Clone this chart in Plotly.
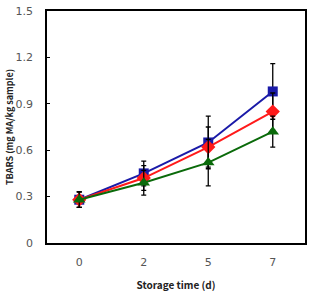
import plotly.graph_objects as go

days = ["0", "2", "5", "7"]
blue_vals = [0.28, 0.45, 0.65, 0.98]
blue_err = [0.05, 0.08, 0.17, 0.18]
red_vals = [0.28, 0.42, 0.62, 0.85]
red_err = [0.05, 0.08, 0.13, 0.12]
green_vals = [0.28, 0.39, 0.52, 0.72]
green_err = [0.05, 0.08, 0.15, 0.10]
y_ticks = [0, 0.3, 0.6, 0.9, 1.2, 1.5]
y_labels = ["0", "0.3", "0.6", "0.9", "1.2", "1.5"]

series = [
    (blue_vals, blue_err, "#1a1aa8", "square", 10),
    (red_vals, red_err, "#ff1a1a", "diamond", 11),
    (green_vals, green_err, "#0a6a0a", "triangle-up", 11),
]

fig = go.Figure()
for vals, err, col, sym, sz in series:
    fig.add_trace(go.Scatter(
        x=days, y=vals, mode="lines+markers",
        line=dict(color=col, width=2),
        marker=dict(symbol=sym, size=sz, color=col),
        error_y=dict(type="data", array=err, visible=True, color="black",
                     thickness=1.3, width=2.5),
        showlegend=False,
    ))

fig.update_layout(
    width=312, height=295,
    margin=dict(l=47, r=5, t=7, b=51),
    paper_bgcolor="white", plot_bgcolor="white",
    font=dict(family="DejaVu Sans", color="#333333"),
)
fig.update_xaxes(
    type="category", range=[-0.5, 3.5],
    showline=True, linecolor="black", linewidth=1.5, mirror=True,
    showgrid=False, ticks="", tickfont=dict(size=11, color="#555555"),
    ticklabelstandoff=8,
    title=dict(text="<b>Storage time (d)</b>", font=dict(family="Noto Sans CJK SC", size=10, color="#222222"), standoff=14),
)
fig.update_yaxes(
    range=[0, 1.5001], tickvals=y_ticks, ticktext=y_labels,
    showline=True, linecolor="black", linewidth=1.5, mirror=True,
    showgrid=False, zeroline=False, ticks="inside", ticklen=3, tickcolor="black",
    tickfont=dict(size=11, color="#555555"), ticklabelstandoff=10,
    title=dict(text="<b>TBARS (mg MA/kg sample)</b>", font=dict(family="Noto Sans CJK SC", size=9, color="#222222"), standoff=0),
)

fig.write_html("out.html")
